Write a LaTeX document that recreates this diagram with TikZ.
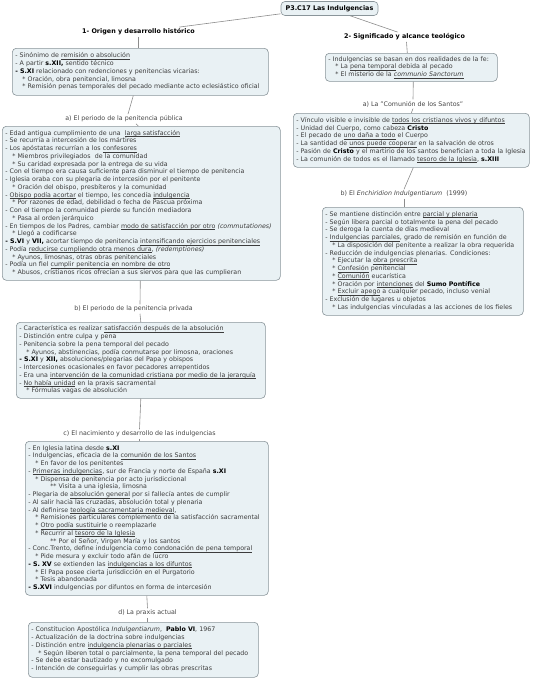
\documentclass[tikz,border=0pt]{standalone}
\usepackage{fontspec}
\setmainfont{DejaVu Sans}
\definecolor{boxfill}{HTML}{E9F1F4}
\definecolor{boxdraw}{HTML}{8A959A}
\definecolor{txt}{HTML}{3C3C3C}
\definecolor{lbltxt}{HTML}{444444}
\definecolor{lnk}{HTML}{8C8C8C}
\newcommand{\B}[1]{{\bfseries\color{black}#1}}
\newcommand{\U}[1]{{\leavevmode\setbox0\hbox{#1}\rlap{\rule[-1.3pt]{\wd0}{0.35pt}}\box0}}
\newcommand{\ia}{\hspace*{7pt}}
\newcommand{\ib}{\hspace*{22pt}}
\newcommand{\tb}[1]{\begin{tabular}{@{}l@{}}#1\end{tabular}}
\tikzset{
  mapbox/.style={draw=boxdraw, fill=boxfill, rounded corners=4pt, line width=0.6pt,
    align=left, anchor=north west, inner xsep=3pt, inner ysep=0pt,
    font=\fontsize{6.3}{7.75}\selectfont, text=txt},
  lbl/.style={font=\fontsize{6.3}{7.75}\selectfont, text=lbltxt, inner sep=1.5pt},
  hdr/.style={font=\fontsize{6.4}{7.75}\selectfont\bfseries, text=black, inner sep=1.5pt},
  rootbox/.style={draw=boxdraw, fill=boxfill, rounded corners=4pt, line width=0.6pt,
    font=\fontsize{6.4}{7.75}\selectfont\bfseries, text=black, minimum width=97pt, minimum height=14pt, inner sep=1pt},
  link/.style={draw=lnk, line width=0.6pt}
}
\begin{document}
\begin{tikzpicture}[x=1pt,y=-1pt]
\useasboundingbox (0,0) rectangle (536,678);

\node[rootbox] (root) at (329.5,8.5) {P3.C17 Las Indulgencias};
\node[hdr] (h1) at (138.5,32) {1- Origen y desarrollo histórico};
\node[hdr] (h2) at (404.5,37) {2- Significado y alcance teológico};

\node[mapbox, minimum width=256pt, minimum height=47pt, text width=250pt] (b1) at (12,48) {\tb{%
- Sinónimo de \U{remisión o absolución}\\
- A partir \B{s.XII,} sentido técnico\\
\B{- S.XI} relacionado con redenciones y penitencias vicarias:\\
\ia* Oración, obra penitencial, limosna\\
\ia* Remisión penas temporales del pecado mediante acto eclesiástico oficial}};

\node[lbl] (la) at (124,119) {a) El periodo de la penitencia pública};

\node[mapbox, minimum width=278pt, minimum height=154pt, text width=272pt] (b2) at (2,126) {\tb{%
- Edad antigua cumplimiento de una \ \U{larga satisfacción}\\
- Se recurría a intercesión de los mártires\\
- Los apóstatas recurrían a los \U{confesores}\\
\ia* Miembros privilegiados \ de la comunidad\\
\ia* Su caridad expresada por la entrega de su vida\\
- Con el tiempo era causa suficiente para disminuir el tiempo de penitencia\\
- Iglesia oraba con su plegaria de intercesión por el penitente\\
\ia* Oración del obispo, presbíteros y la comunidad\\
- \U{Obispo podía acortar} el tiempo, les concedía \U{indulgencia}\\
\ia* Por razones de edad, debilidad o fecha de Pascua próxima\\
- Con el tiempo la comunidad pierde su función mediadora\\
\ia* Pasa al orden jerárquico\\
- En tiempos de los Padres, cambiar \U{modo de satisfacción por otro} \textit{(commutationes)}\\
\ia* Llegó a codificarse\\
\B{- S.VI} y \B{VII,} acortar tiempo de penitencia \U{intensificando ejercicios penitenciales}\\
- Podía \U{reducirse cumpliendo otra menos dura}, \textit{(redemptiones)}\\
\ia* Ayunos, limosnas, otras obras penitenciales\\
- Podía un fiel \U{cumplir penitencia en nombre de otro}\\
\ia* Abusos, cristianos ricos ofrecían a sus siervos para que las cumplieran}};

\node[lbl] (lb) at (133.5,309) {b) El periodo de la penitencia privada};

\node[mapbox, minimum width=249pt, minimum height=76pt, text width=243pt] (b3) at (16,322) {\tb{%
- Característica es realizar \U{satisfacción después de la absolución}\\
- Distinción entre culpa y pena\\
- Penitencia sobre la pena temporal del pecado\\
\ia* Ayunos, abstinencias, podía conmutarse por limosna, oraciones\\
\B{- S.XI} y \B{XII,} absoluciones/plegarias del Papa y obispos\\
- Intercesiones ocasionales en favor pecadores arrepentidos\\
- Era una \U{intervención de la comunidad cristiana por medio de la jerarquía}\\
- \U{No había unidad} en la praxis sacramental\\
\ia* Fórmulas vagas de absolución}};

\node[lbl] (lc) at (139.5,434) {c) El nacimiento y desarrollo de las indulgencias};

\node[mapbox, minimum width=243pt, minimum height=154pt, text width=237pt] (b4) at (25,441) {\tb{%
- En Iglesia latina desde \B{s.XI}\\
- Indulgencias, eficacia de la \U{comunión de los Santos}\\
\ia* En favor de los penitentes\\
- \U{Primeras indulgencias}, sur de Francia y norte de España \B{s.XI}\\
\ia* Dispensa de penitencia por acto jurisdiccional\\
\ib** Visita a una iglesia, limosna\\
- Plegaria de \U{absolución general} por si fallecía antes de cumplir\\
- Al salir hacia las cruzadas, absolución total y plenaria\\
- Al definirse \U{teología sacramentaria medieval},\\
\ia* Remisiones particulares complemento de la satisfacción sacramental\\
\ia* \U{Otro podía sustituirle} o reemplazarle\\
\ia* Recurrir al \U{tesoro de la Iglesia}\\
\ib** Por el Señor, Virgen María y los santos\\
- Conc.Trento, define indulgencia como \U{condonación de pena temporal}\\
\ia* Pide mesura y excluir todo afán de lucro\\
\B{- S. XV} se extienden las \U{indulgencias a los difuntos}\\
\ia* El Papa posee cierta jurisdicción en el Purgatorio\\
\ia* Tesis abandonada\\
\B{- S.XVI} indulgencias por difuntos en forma de intercesión}};

\node[lbl] (ld) at (147.5,613) {d) La praxis actual};

\node[mapbox, minimum width=230pt, minimum height=55pt, text width=224pt] (b5) at (28,622) {\tb{%
- Constitucion Apostólica \textit{Indulgentiarum}, \ \B{Pablo VI}, 1967\\
- Actualización de la doctrina sobre indulgencias\\
- Distinción entre \U{indulgencia plenarias o parciales}\\
\ia* Según liberen total o parcialmente, la pena temporal del pecado\\
- Se debe estar bautizado y no excomulgado\\
- Intención de conseguirlas y cumplir las obras prescritas}};

\node[mapbox, minimum width=172pt, minimum height=28pt, text width=166pt] (r1) at (325,53) {\tb{%
- Indulgencias se basan en dos realidades de la fe:\\
\ia* La \U{pena temporal} debida al pecado\\
\ia* El misterio de la \U{\textit{communio Sanctorum}}}};

\node[lbl] (la2) at (413,104) {a) La "Comunión de los Santos"};

\node[mapbox, minimum width=236pt, minimum height=54pt, text width=230pt] (r2) at (293,113) {\tb{%
- Vínculo visible e invisible de \U{todos los cristianos vivos y difuntos}\\
- Unidad del Cuerpo, como cabeza \B{Cristo}\\
- El pecado de \U{uno daña a todo} el Cuerpo\\
- La santidad de \U{unos puede cooperar} en la salvación de otros\\
- Pasión de \B{Cristo} y el martirio de los santos benefician a toda la Iglesia\\
- La comunión de todos es el llamado \U{tesoro de la Iglesia}, \B{s.XIII}}};

\node[lbl] (lb2) at (404,194) {b) El \textit{Enchiridion Indulgentiarum} \ (1999)};

\node[mapbox, minimum width=201pt, minimum height=108pt, text width=195pt] (r3) at (322,207) {\tb{%
- Se mantiene distinción entre \U{parcial y plenaria}\\
- Según libera parcial o totalmente la pena del pecado\\
- Se deroga la cuenta de días medieval\\
- \U{Indulgencias parciales}, grado de remisión en función de\\
\ia* La disposición del penitente a realizar la obra requerida\\
- Reducción de indulgencias plenarias. Condiciones:\\
\ia* Ejecutar la \U{obra prescrita}\\
\ia* \U{Confesión} penitencial\\
\ia* \U{Comunión} eucarística\\
\ia* Oración por \U{intenciones} del \B{Sumo Pontífice}\\
\ia* \U{Excluir apego} a cualquier pecado, incluso venial\\
- Exclusión de lugares u objetos\\
\ia* Las indulgencias vinculadas a las acciones de los fieles}};

% connectors
\draw[link] ([yshift=2pt]root.south west) -- ([xshift=-17pt]h1.north east);
\draw[link] ([xshift=-28pt]root.south east) -- ([xshift=-7pt]h2.north);
\draw[link] (h1.south) -- (h1.south |- b1.north);
\draw[link] ([xshift=-7pt]b1.south) -- ([xshift=4pt]la.north);
\draw[link] ([xshift=12pt]la.south) -- ([xshift=-3pt]b2.north);
\draw[link] ([xshift=-1pt]b2.south) -- ([xshift=6.5pt]lb.north);
\draw[link] ([xshift=6.5pt]lb.south) -- (b3.north);
\draw[link] (b3.south) -- (lc.north);
\draw[link] (lc.south) -- (lc.south |- b4.north);
\draw[link] (b4.south) -- (ld.north);
\draw[link] (ld.south) -- (ld.south |- b5.north);
\draw[link] ([xshift=2pt]h2.south) -- ([xshift=-4pt]r1.north);
\draw[link] ([xshift=2pt]r1.south) -- (la2.north);
\draw[link] (la2.south) -- (r2.north);
\draw[link] ([xshift=2pt]r2.south) -- (lb2.north);
\draw[link] (lb2.south) -- (lb2.south |- r3.north);
\end{tikzpicture}
\end{document}
